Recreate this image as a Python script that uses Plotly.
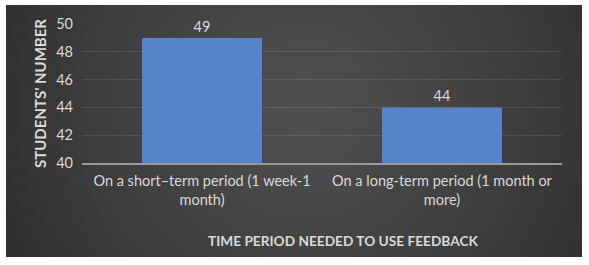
import base64
import plotly.graph_objects as go

categories = ["On a short\u2013term period (1 week-1<br>month)",
              "On a long-term period (1 month or<br>more)"]
values = [49, 44]
y_ticks = [40, 42, 44, 46, 48, 50]
x_title = "TIME PERIOD NEEDED TO USE FEEDBACK"
y_title = "STUDENTS' NUMBER"

W, H = 589, 265
L, R, T, B = 82, 27, 24, 102
pw, ph = W - L - R, H - T - B

svg = f'''<svg xmlns="http://www.w3.org/2000/svg" width="576" height="252" viewBox="0 0 576 252" preserveAspectRatio="none">
<defs><radialGradient id="g" cx="0.52" cy="0.4" r="0.7" gradientTransform="translate(0.52 0.4) scale(1 2.3) translate(-0.52 -0.4)">
<stop offset="0" stop-color="#505050"/><stop offset="0.55" stop-color="#3c3c3c"/><stop offset="1" stop-color="#262626"/></radialGradient></defs>
<rect width="576" height="252" fill="url(#g)"/></svg>'''
src = "data:image/svg+xml;base64," + base64.b64encode(svg.encode()).decode()

px0, px1, py0, py1 = 6, 582, 5, 257
ix0 = (px0 - L) / pw
iy0 = (H - B - py0) / ph
sx = (px1 - px0) / pw
sy = (py1 - py0) / ph

fnt = "Lato, 'Open Sans', sans-serif"
fig = go.Figure(go.Bar(
    x=categories, y=values, width=0.5,
    marker=dict(color="#5585c8", line=dict(width=0)),
    text=[str(v) for v in values], textposition="outside",
    textfont=dict(color="#d9d9d9", size=14.5, family=fnt),
    cliponaxis=False, hoverinfo="skip",
))
fig.update_layout(
    width=W, height=H, margin=dict(l=L, r=R, t=T, b=B, autoexpand=False),
    paper_bgcolor="white", plot_bgcolor="rgba(0,0,0,0)",
    showlegend=False,
    images=[dict(source=src, xref="paper", yref="paper", x=ix0, y=iy0,
                 sizex=sx, sizey=sy, sizing="stretch", layer="below",
                 xanchor="left", yanchor="top")],
    font=dict(family=fnt, color="#d9d9d9", size=14.5),
    bargap=0.5,
)
fig.update_yaxes(range=[40, 50], tickvals=y_ticks, showgrid=True, automargin=False,
                 gridcolor="rgba(255,255,255,0.1)", gridwidth=1, zeroline=False,
                 showline=False, ticks="", tickfont=dict(size=14.5, color="#d9d9d9"),
                 ticklabelstandoff=8,
                 title=dict(text=f"<b>{y_title}</b>", font=dict(size=15, color="#d9d9d9"), standoff=5))
fig.update_xaxes(showline=True, linecolor="#9a9a9a", linewidth=1.5, automargin=False,
                 ticks="", tickfont=dict(size=14.5, color="#d9d9d9"), ticklabelstandoff=4)
fig.add_annotation(text=f"<b>{x_title}</b>", xref="paper", yref="paper",
                   x=(343 - L) / pw, y=(H - B - 240) / ph, showarrow=False,
                   font=dict(size=13.7, color="#d9d9d9", family=fnt),
                   xanchor="center", yanchor="middle")
fig.write_html("out.html", config={"displayModeBar": False},
               post_script="document.body.style.margin='0';document.body.style.overflow='hidden';")
